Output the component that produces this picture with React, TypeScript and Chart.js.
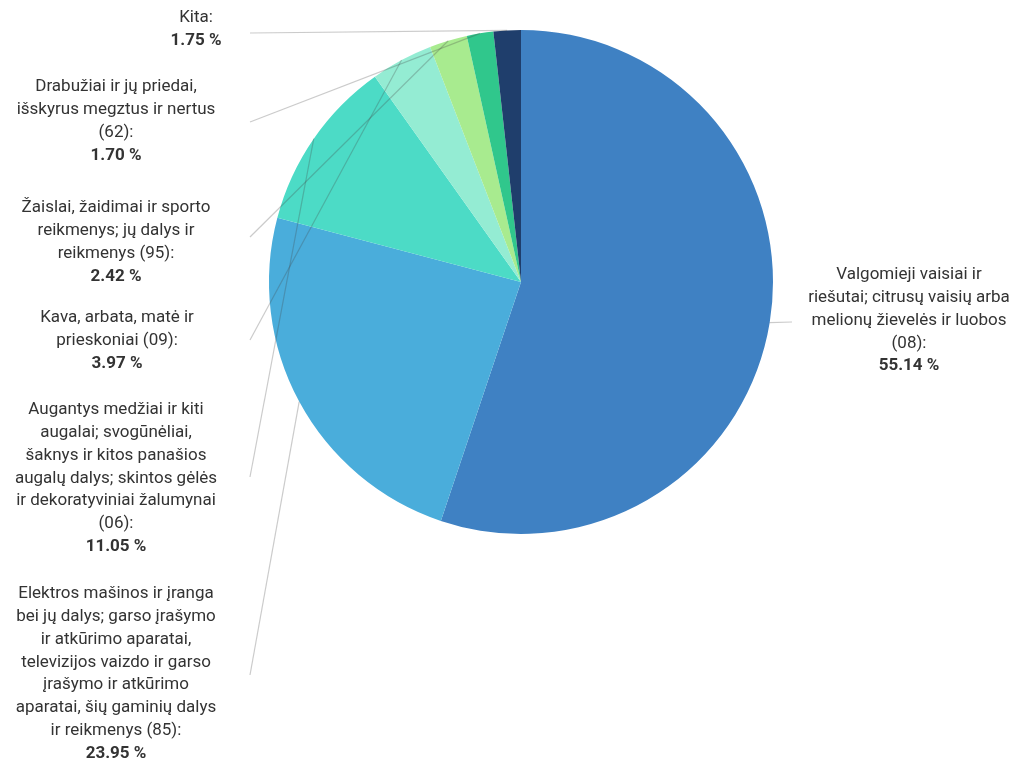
import React, { useEffect, useRef } from "react";
import { Chart, registerables } from "chart.js";

Chart.register(...registerables);

const categories: string[][] = [
  ["Valgomieji vaisiai ir", "riešutai; citrusų vaisių arba", "melionų žievelės ir luobos", "(08):"],
  ["Elektros mašinos ir įranga", "bei jų dalys; garso įrašymo", "ir atkūrimo aparatai,", "televizijos vaizdo ir garso", "įrašymo ir atkūrimo", "aparatai, šių gaminių dalys", "ir reikmenys (85):"],
  ["Augantys medžiai ir kiti", "augalai; svogūnėliai,", "šaknys ir kitos panašios", "augalų dalys; skintos gėlės", "ir dekoratyviniai žalumynai", "(06):"],
  ["Kava, arbata, matė ir", "prieskoniai (09):"],
  ["Žaislai, žaidimai ir sporto", "reikmenys; jų dalys ir", "reikmenys (95):"],
  ["Drabužiai ir jų priedai,", "išskyrus megztus ir nertus", "(62):"],
  ["Kita:"],
];

const shares: number[] = [55.14, 23.95, 11.05, 3.97, 2.42, 1.7, 1.75];

const sliceColors: string[] = ["#3F81C3", "#4AADDB", "#4CDBC6", "#94ECD3", "#A8EB8F", "#30C78C", "#1F3E6C"];

// label block layout: centre x, first line y, connector start x/y
const labelLayout = [
  { cx: 909, y0: 275, lx: 792, ly: 322 },
  { cx: 116, y0: 594, lx: 250, ly: 675 },
  { cx: 116, y0: 410, lx: 250, ly: 477 },
  { cx: 117, y0: 318, lx: 250, ly: 340 },
  { cx: 116, y0: 208, lx: 250, ly: 237 },
  { cx: 116, y0: 87, lx: 250, ly: 122 },
  { cx: 196, y0: 18, lx: 250, ly: 33 },
];

const LINE_H = 22.8;
const FONT = "Roboto, 'Noto Sans', sans-serif";

const labelPlugin = {
  id: "sideLabels",
  afterDraw(chart: any) {
    const ctx = chart.ctx as CanvasRenderingContext2D;
    const meta = chart.getDatasetMeta(0);
    ctx.save();
    meta.data.forEach((arc: any, i: number) => {
      const p = arc.getProps(["x", "y", "startAngle", "endAngle", "outerRadius"], true);
      const mid = (p.startAngle + p.endAngle) / 2;
      const tx = p.x + Math.cos(mid) * p.outerRadius;
      const ty = p.y + Math.sin(mid) * p.outerRadius;
      const L = labelLayout[i];
      ctx.strokeStyle = "rgba(70,70,70,0.28)";
      ctx.lineWidth = 1.2;
      ctx.beginPath();
      ctx.moveTo(L.lx, L.ly);
      ctx.lineTo(tx, ty);
      ctx.stroke();

      ctx.textAlign = "center";
      ctx.textBaseline = "middle";
      ctx.fillStyle = "#333333";
      const lines = categories[i];
      lines.forEach((t, k) => {
        ctx.font = `17px ${FONT}`;
        ctx.fillText(t, L.cx, L.y0 + k * LINE_H);
      });
      ctx.font = `bold 17px ${FONT}`;
      ctx.fillText(`${shares[i].toFixed(2)} %`, L.cx, L.y0 + lines.length * LINE_H);
    });
    ctx.restore();
  },
};

export default function App() {
  const ref = useRef<HTMLCanvasElement>(null);
  useEffect(() => {
    document.body.style.margin = "0";
    const chart = new Chart(ref.current!, {
      type: "pie",
      data: {
        labels: categories.map((c) => c.join(" ")),
        datasets: [
          {
            data: shares,
            backgroundColor: sliceColors,
            borderWidth: 0,
          },
        ],
      },
      options: {
        animation: false,
        responsive: false,
        layout: { padding: { left: 269, top: 30, right: 259, bottom: 231 } },
        plugins: {
          legend: { display: false },
          tooltip: { enabled: false },
        },
      },
      plugins: [labelPlugin],
    });
    return () => chart.destroy();
  }, []);
  return (
    <div style={{ width: 1032, height: 765, background: "#fff" }}>
      <canvas ref={ref} width={1032} height={765} style={{ width: 1032, height: 765 }} />
    </div>
  );
}
